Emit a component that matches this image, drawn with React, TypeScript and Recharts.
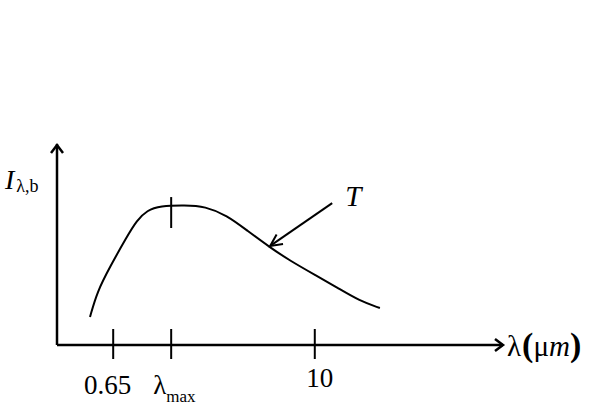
import React from "react";
import {
  LineChart,
  Line,
  XAxis,
  YAxis,
  ReferenceLine,
} from "recharts";

// schematic position along the wavelength axis (0..100) and intensity (0..100)
const curveX = [7.4, 9.0, 11.9, 15.7, 17.9, 20.2, 23.1, 28.7, 33.2, 38.1, 42.6, 47.8, 52.2, 58.3, 62.8, 67.9, 72.4];
const curveY = [13.9, 26.5, 39.0, 54.0, 62.0, 67.0, 69.2, 69.6, 69.0, 64.5, 57.0, 48.5, 42.0, 34.3, 28.6, 21.9, 18.4];

const tickPositions = [12.6, 25.6, 57.8];
const tickLabels = ["0.65", "λmax", "10"];

const peakX = 25.6;
const peakRange = [58.2, 73.6];

// arrow pointing at the curve, labelled T
const arrowFrom = { x: 61.7, y: 70.6 };
const arrowTo = { x: 47.8, y: 49.3 };
const curveLabel = "T";

const data = curveX.map((x, i) => ({ x, y: curveY[i] }));

const FONT = "'Liberation Serif', 'Times New Roman', serif";

const AxisTick = (props: any) => {
  const { x, y, index } = props;
  const label = tickLabels[index];
  let text;
  if (label === "λmax") {
    text = (
      <text x={x - 18} y={y + 49} fontFamily={FONT} fontSize={27} fill="#000">
        <tspan>λ</tspan>
        <tspan fontSize={17} dy={8}>max</tspan>
      </text>
    );
  } else {
    const dx = label === "10" ? 5 : -5.5;
    const base = label === "10" ? 42 : 49;
    text = (
      <text x={x + dx} y={y + base} textAnchor="middle" fontFamily={FONT} fontSize={27} fill="#000">
        {label}
      </text>
    );
  }
  return (
    <g>
      <line x1={x} x2={x} y1={y - 16} y2={y + 14} stroke="#000" strokeWidth={2} />
      {text}
    </g>
  );
};

const YArrow = (props: any) => {
  const { x1, y1, x2, y2 } = props;
  const topY = Math.min(y1, y2);
  const botY = Math.max(y1, y2);
  return (
    <g>
      <line x1={x1} x2={x1} y1={botY} y2={topY} stroke="#000" strokeWidth={2.5} />
      <polyline
        points={`${x1 - 6},${topY + 9} ${x1},${topY + 1} ${x1 + 6},${topY + 9}`}
        fill="none"
        stroke="#000"
        strokeWidth={2.5}
      />
      <text x={5} y={189} fontFamily={FONT} fontSize={28} fontStyle="italic" fill="#000">
        I
        <tspan fontSize={18} fontStyle="normal" dx={2} dy={3}>λ,b</tspan>
      </text>
    </g>
  );
};

const XArrow = (props: any) => {
  const { x1, y1, x2 } = props;
  const left = Math.min(x1, x2);
  const right = Math.max(x1, x2);
  return (
    <g>
      <line x1={left} x2={right} y1={y1} y2={y1} stroke="#000" strokeWidth={2.5} />
      <polyline
        points={`${right - 8},${y1 - 6} ${right},${y1} ${right - 8},${y1 + 6}`}
        fill="none"
        stroke="#000"
        strokeWidth={2.5}
      />
      <text x={right + 4} y={y1 + 11} fontFamily={FONT} fontSize={29} fill="#000">
        λ
        <tspan fontSize={34} fontWeight="bold" dx={1}>(</tspan>
        <tspan>μ</tspan>
        <tspan fontStyle="italic">m</tspan>
        <tspan fontSize={34} fontWeight="bold">)</tspan>
      </text>
    </g>
  );
};

const PointerArrow = (props: any) => {
  const { x1, y1, x2, y2 } = props;
  const ang = Math.atan2(y2 - y1, x2 - x1);
  const len = 13;
  const spread = 0.45;
  const ax = x2 - len * Math.cos(ang - spread);
  const ay = y2 - len * Math.sin(ang - spread);
  const bx = x2 - len * Math.cos(ang + spread);
  const by = y2 - len * Math.sin(ang + spread);
  return (
    <g>
      <line x1={x1} y1={y1} x2={x2} y2={y2} stroke="#000" strokeWidth={2} />
      <polyline points={`${ax},${ay} ${x2},${y2} ${bx},${by}`} fill="none" stroke="#000" strokeWidth={2} />
      <text x={x1 + 13} y={y1 + 3} fontFamily={FONT} fontSize={29} fontStyle="italic" fill="#000">
        {curveLabel}
      </text>
    </g>
  );
};

const App = () => {
  return (
    <div style={{ position: "absolute", left: 0, top: 0, background: "#fff" }}>
      <LineChart
        width={590}
        height={410}
        data={data}
        margin={{ top: 144, right: 87, bottom: 35, left: 57 }}
      >
        <XAxis
          dataKey="x"
          type="number"
          domain={[0, 100]}
          ticks={tickPositions}
          axisLine={false}
          tickLine={false}
          tickSize={0}
          tickMargin={0}
          height={30}
          tick={<AxisTick />}
          interval={0}
        />
        <YAxis type="number" domain={[0, 100]} hide />
        <ReferenceLine
          segment={[{ x: 0, y: 0 }, { x: 0, y: 100 }]}
          shape={<YArrow />}
          ifOverflow="visible"
        />
        <ReferenceLine
          segment={[{ x: 0, y: 0 }, { x: 100, y: 0 }]}
          shape={<XArrow />}
          ifOverflow="visible"
        />
        <ReferenceLine
          segment={[{ x: peakX, y: peakRange[0] }, { x: peakX, y: peakRange[1] }]}
          stroke="#000"
          strokeWidth={2}
          ifOverflow="visible"
        />
        <ReferenceLine
          segment={[arrowFrom, arrowTo]}
          shape={<PointerArrow />}
          ifOverflow="visible"
        />
        <Line
          type="basis"
          dataKey="y"
          stroke="#000"
          strokeWidth={2}
          dot={false}
          isAnimationActive={false}
        />
      </LineChart>
    </div>
  );
};

export default App;
